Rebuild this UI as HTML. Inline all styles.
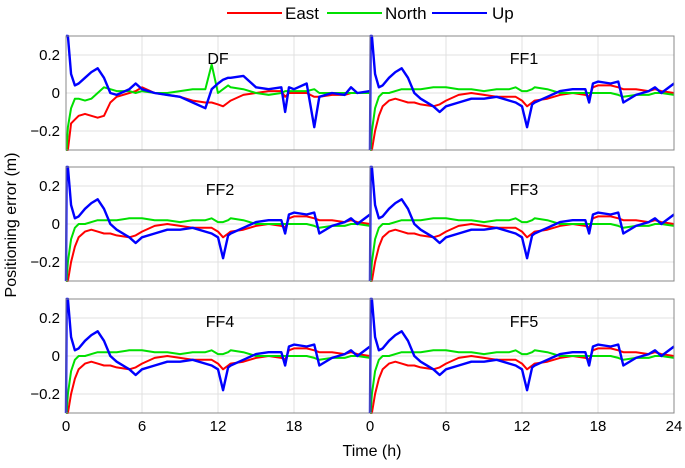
<!DOCTYPE html>
<html><head><meta charset="utf-8"><style>
body{margin:0;background:#fff;font-family:"Liberation Sans",Arial,sans-serif}
svg text{font-family:"Liberation Sans",Arial,sans-serif}
</style></head><body>
<svg id="c" width="685" height="463" viewBox="0 0 685 463"></svg>
<script>
const panelNames=["DF","FF1","FF2","FF3","FF4","FF5"];
const hours=[0,0.05,0.15,0.4,0.7,1,1.5,2,2.5,3,3.5,4,5,5.5,6,7,8,9,10,11,11.5,12,12.4,12.8,13,14,15,16,17,17.3,17.6,18,19,19.6,20,21,22,22.5,23,24];
const xTicks=[0,6,12,18,24];
const yTicks=[-0.2,0,0.2];
const yTickLabels=["\u22120.2","0","0.2"];
const dfUp=[0.3,0.3,0.3,0.1,0.04,0.05,0.08,0.11,0.13,0.08,0,-0.01,0.02,0.05,0.02,0,-0.01,-0.02,-0.05,-0.08,0.02,0.05,0.07,0.08,0.08,0.09,0.03,0.02,0.03,-0.1,0.03,0.02,0.05,-0.18,-0.02,0,-0.01,0.03,0,0.01];
const dfEast=[-0.3,-0.3,-0.3,-0.16,-0.14,-0.12,-0.11,-0.12,-0.13,-0.12,-0.05,-0.02,0,0.01,0.03,0,-0.01,-0.02,-0.04,-0.05,-0.05,-0.06,-0.07,-0.05,-0.04,-0.01,0,0.01,0.01,-0.02,0,0,0,-0.02,-0.02,-0.01,-0.01,0,0,0];
const dfNorth=[-0.3,-0.3,-0.18,-0.08,-0.03,-0.03,-0.04,-0.03,0,0.03,0.02,0.01,0.01,0,0.01,0,0,0.01,0.02,0.02,0.15,0,0.02,0.04,0.03,0.02,0,-0.01,0,0.01,0.01,0.01,0.01,0.02,0,0,0,0,0,0];
const ffUp=[-0.3,0.3,0.3,0.1,0.03,0.04,0.08,0.11,0.13,0.08,0,-0.03,-0.07,-0.1,-0.07,-0.05,-0.03,-0.03,-0.02,-0.04,-0.05,-0.07,-0.18,-0.06,-0.05,-0.02,0.01,0.02,0.02,-0.05,0.05,0.06,0.05,0.06,-0.05,-0.01,0.01,0.03,0,0.05];
const ffEast=[-0.3,-0.3,-0.3,-0.2,-0.12,-0.07,-0.04,-0.03,-0.04,-0.05,-0.05,-0.06,-0.07,-0.06,-0.04,-0.01,0,-0.01,-0.02,-0.02,-0.02,-0.04,-0.07,-0.05,-0.04,-0.03,-0.01,0,-0.01,-0.02,0.03,0.04,0.04,0.03,0.02,0.02,0.01,0.02,0.01,0];
const ffNorth=[-0.3,-0.3,-0.2,-0.08,-0.02,0,0,0.01,0.02,0.02,0.02,0.02,0.03,0.03,0.03,0.02,0.02,0.01,0.02,0.02,0.03,0.01,0.01,0.02,0.03,0.02,0,0,0,0,0,0,0,-0.01,-0.02,-0.01,-0.01,0,0,-0.01];

const svg=document.getElementById('c');
const NS="http://www.w3.org/2000/svg";
function mk(tag,attrs,parent){const e=document.createElementNS(NS,tag);for(const k in attrs)e.setAttribute(k,attrs[k]);(parent||svg).appendChild(e);return e;}
const colX=[66,370],rowY=[36,167,299],PW=304,PH=114;
const yMin=-0.3,yMax=0.3;
panelNames.forEach((name,i)=>{
  const col=i%2,row=Math.floor(i/2);
  const x0=colX[col],y0=rowY[row];
  const g=mk('g',{});
  
  
  const sx=h=>x0+h/24*PW;
  const sy=v=>y0+(yMax-Math.max(yMin,Math.min(yMax,v)))/(yMax-yMin)*PH;
  xTicks.slice(1,-1).forEach(t=>{const l=mk('line',{x1:sx(t),x2:sx(t),y1:y0,y2:y0+PH,stroke:'#e0e0e0','stroke-width':1},g);});
  yTicks.forEach(t=>{const l=mk('line',{x1:x0,x2:x0+PW,y1:sy(t),y2:sy(t),stroke:'#e0e0e0','stroke-width':1},g);});
  const up=i==0?dfUp:ffUp,east=i==0?dfEast:ffEast,north=i==0?dfNorth:ffNorth;
  [[east,'#ff0000','east'],[north,'#00e000','north'],[up,'#0000ff','up']].forEach(([d,c,n])=>{
    const p=mk('polyline',{points:hours.map((h,j)=>sx(h)+','+sy(d[j])).join(' '),fill:'none',stroke:c,'stroke-width':n=='up'?2.4:2,'stroke-linejoin':'round'},g);
    
    
  });
  const f=mk('rect',{x:x0,y:y0,width:PW,height:PH,fill:'none',stroke:'#888','stroke-width':1},g);
  
  const t=mk('text',{x:x0+PW/2+(i==0?0:2),y:y0+28,'font-size':16,'text-anchor':'middle',fill:'#000'},g);t.textContent=name;
  
  if(col==0){yTicks.forEach((v,k)=>{const tx=mk('text',{x:60,y:sy(v)+5,'font-size':15,'text-anchor':'end'},g);tx.textContent=yTickLabels[k];});}
  if(row==2){xTicks.forEach(v=>{if(col==0&&v==24)return;const tx=mk('text',{x:Math.min(sx(v),674),y:431,'font-size':15,'text-anchor':'middle'},g);tx.textContent=v;});}
});
const xl=mk('text',{x:372,y:456,'font-size':16,'text-anchor':'middle'});xl.textContent='Time (h)';

const yl=mk('text',{x:0,y:0,'font-size':16,'text-anchor':'middle',transform:'translate(16,225) rotate(-90)'});yl.textContent='Positioning error (m)';

[['East','#ff0000',227,285],['North','#00e000',327,385],['Up','#0000ff',432,492]].forEach(([n,c,lx,tx])=>{
  const g=mk('g',{});
  mk('line',{x1:lx,x2:lx+55,y1:13,y2:13,stroke:c,'stroke-width':2},g);
  const t=mk('text',{x:tx,y:19,'font-size':17},g);t.textContent=n;
});
</script>
</body></html>
